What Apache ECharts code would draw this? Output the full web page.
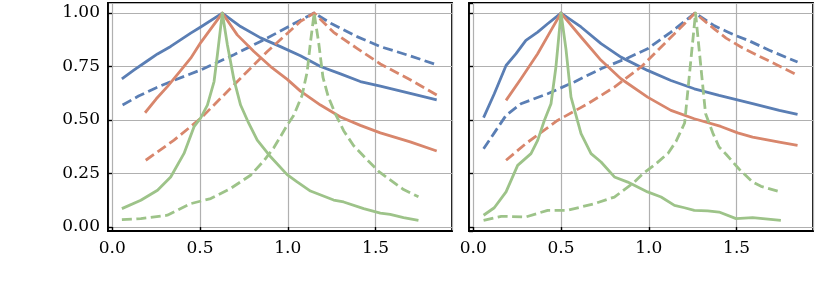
<!DOCTYPE html>
<html><head><meta charset="utf-8">
<script src="https://cdn.jsdelivr.net/npm/echarts@6/dist/echarts.min.js"></script>
<style>html,body{margin:0;padding:0;background:#fff}#c{width:822px;height:289px}</style>
</head><body><div id="c"></div><script>
// tick labels
const xTickLabels = ['0.0', '0.5', '1.0', '1.5'];
const yTickLabels = ['0.00', '0.25', '0.50', '0.75', '1.00'];

// ---- left panel: [x, y] points ----
const leftBlueSolid = [[0.055,0.692],[0.125,0.734],[0.201,0.777],[0.258,0.809],[0.333,0.844],[0.447,0.906],[0.504,0.935],[0.627,1.0],[0.731,0.937],[0.845,0.884],[0.958,0.843],[1.072,0.800],[1.186,0.750],[1.300,0.716],[1.413,0.680],[1.527,0.658],[1.697,0.625],[1.848,0.594]];
const leftBlueDashed = [[0.059,0.570],[0.150,0.612],[0.248,0.650],[0.350,0.685],[0.504,0.734],[0.693,0.805],[0.883,0.883],[1.072,0.967],[1.150,1.0],[1.250,0.950],[1.394,0.890],[1.527,0.843],[1.697,0.800],[1.848,0.758]];
const leftRedSolid = [[0.187,0.534],[0.250,0.598],[0.314,0.656],[0.380,0.722],[0.447,0.789],[0.504,0.862],[0.627,1.0],[0.712,0.898],[0.807,0.820],[0.902,0.750],[0.997,0.690],[1.072,0.635],[1.186,0.570],[1.300,0.514],[1.413,0.475],[1.527,0.440],[1.697,0.398],[1.848,0.355]];
const leftRedDashed = [[0.191,0.312],[0.352,0.406],[0.504,0.508],[0.693,0.664],[0.883,0.820],[1.072,0.961],[1.150,1.0],[1.261,0.910],[1.394,0.835],[1.527,0.762],[1.697,0.688],[1.848,0.617]];
const leftGreenSolid = [[0.055,0.086],[0.163,0.125],[0.258,0.172],[0.333,0.234],[0.409,0.344],[0.466,0.469],[0.504,0.510],[0.542,0.570],[0.580,0.680],[0.599,0.805],[0.627,1.0],[0.656,0.851],[0.693,0.690],[0.731,0.570],[0.778,0.484],[0.826,0.406],[0.902,0.328],[0.996,0.245],[1.053,0.211],[1.129,0.168],[1.261,0.126],[1.318,0.117],[1.432,0.086],[1.527,0.065],[1.583,0.059],[1.659,0.044],[1.744,0.031]];
const leftGreenDashed = [[0.055,0.034],[0.163,0.039],[0.314,0.055],[0.447,0.109],[0.561,0.133],[0.674,0.180],[0.788,0.242],[0.864,0.310],[0.920,0.370],[0.996,0.475],[1.034,0.522],[1.081,0.615],[1.110,0.724],[1.129,0.863],[1.150,1.0],[1.176,0.860],[1.200,0.700],[1.230,0.610],[1.270,0.530],[1.318,0.450],[1.375,0.380],[1.451,0.315],[1.517,0.260],[1.583,0.220],[1.659,0.175],[1.744,0.141]];

// ---- right panel ----
const rightBlueSolid = [[0.059,0.511],[0.120,0.623],[0.187,0.755],[0.244,0.810],[0.300,0.872],[0.367,0.911],[0.424,0.950],[0.500,1.0],[0.614,0.935],[0.728,0.857],[0.841,0.794],[0.993,0.732],[1.126,0.685],[1.259,0.646],[1.400,0.615],[1.591,0.577],[1.743,0.545],[1.847,0.526]];
const rightBlueDashed = [[0.059,0.366],[0.120,0.440],[0.187,0.522],[0.272,0.576],[0.424,0.623],[0.576,0.678],[0.728,0.740],[0.880,0.790],[0.993,0.833],[1.126,0.911],[1.263,1.0],[1.374,0.940],[1.440,0.915],[1.500,0.893],[1.572,0.870],[1.686,0.826],[1.847,0.771]];
const rightRedSolid = [[0.187,0.592],[0.272,0.693],[0.367,0.810],[0.443,0.919],[0.500,1.0],[0.614,0.888],[0.728,0.779],[0.841,0.693],[0.993,0.607],[1.126,0.545],[1.259,0.506],[1.410,0.470],[1.506,0.440],[1.591,0.420],[1.743,0.397],[1.847,0.382]];
const rightRedDashed = [[0.187,0.312],[0.300,0.390],[0.480,0.498],[0.652,0.576],[0.804,0.654],[0.956,0.748],[1.089,0.857],[1.203,0.950],[1.263,1.0],[1.374,0.925],[1.440,0.883],[1.525,0.841],[1.677,0.779],[1.847,0.709]];
const rightGreenSolid = [[0.059,0.055],[0.120,0.090],[0.187,0.164],[0.253,0.288],[0.329,0.343],[0.367,0.405],[0.405,0.498],[0.443,0.576],[0.471,0.748],[0.500,1.0],[0.529,0.826],[0.557,0.607],[0.614,0.436],[0.671,0.343],[0.728,0.304],[0.804,0.234],[0.880,0.210],[0.993,0.164],[1.070,0.140],[1.146,0.101],[1.203,0.090],[1.259,0.078],[1.335,0.075],[1.400,0.070],[1.497,0.039],[1.591,0.044],[1.752,0.031]];
const rightGreenDashed = [[0.059,0.031],[0.160,0.050],[0.300,0.047],[0.424,0.078],[0.538,0.078],[0.690,0.109],[0.804,0.140],[0.918,0.210],[0.968,0.250],[1.040,0.295],[1.110,0.345],[1.155,0.400],[1.204,0.486],[1.266,1.0],[1.323,0.530],[1.364,0.440],[1.400,0.374],[1.440,0.340],[1.515,0.270],[1.591,0.210],[1.639,0.190],[1.734,0.168]];

const BLUE = '#5a7eb4', RED = '#d8866c', GREEN = '#9dc389';
const FONT = 'DejaVu Serif';

const chart = echarts.init(document.getElementById('c'), null, {renderer: 'canvas'});

function xAxis(gi) {
  return {
    type: 'value', gridIndex: gi, min: -0.024, max: 1.935,
    minInterval: 0.5, maxInterval: 0.5,
    axisLine: {show: true, onZero: false, lineStyle: {color: '#000', width: 1.8}},
    axisTick: {show: true, inside: true, length: 4, lineStyle: {color: '#000', width: 1.4}},
    axisLabel: {show: true, showMinLabel: false, showMaxLabel: false, margin: 9,
      fontFamily: FONT, fontSize: 17, color: '#000',
      formatter: v => { const i = Math.round(v / 0.5); return (Math.abs(v - i * 0.5) < 1e-6 && xTickLabels[i]) ? xTickLabels[i] : ''; }},
    splitLine: {show: true, lineStyle: {color: '#b0b0b0', width: 1.2}}
  };
}
function yAxis(gi, labels) {
  return {
    type: 'value', gridIndex: gi, min: -0.0187, max: 1.047,
    minInterval: 0.25, maxInterval: 0.25,
    axisLine: {show: true, onZero: false, lineStyle: {color: '#000', width: 1.8}},
    axisTick: {show: true, inside: true, length: 4, lineStyle: {color: '#000', width: 1.4}},
    axisLabel: {show: labels, showMinLabel: false, showMaxLabel: false, margin: 8,
      fontFamily: FONT, fontSize: 17, color: '#000',
      formatter: v => { const i = Math.round(v / 0.25); return (Math.abs(v - i * 0.25) < 1e-6 && yTickLabels[i]) ? yTickLabels[i] : ''; }},
    splitLine: {show: true, lineStyle: {color: '#b0b0b0', width: 1.2}}
  };
}
function line(data, color, dashed, gi) {
  return {
    type: 'line', xAxisIndex: gi, yAxisIndex: gi, data: data,
    showSymbol: false, symbol: 'none', animation: false, silent: true,
    lineStyle: {color: color, width: 2.8, type: dashed ? [10, 4.5] : 'solid', cap: 'butt', join: 'round'}
  };
}

chart.setOption({
  animation: false,
  backgroundColor: '#fff',
  grid: [
    {left: 108, top: 3, width: 344, height: 228, show: true, borderColor: '#000', borderWidth: 1.8, backgroundColor: 'transparent'},
    {left: 469, top: 3, width: 344, height: 228, show: true, borderColor: '#000', borderWidth: 1.8, backgroundColor: 'transparent'}
  ],
  xAxis: [xAxis(0), xAxis(1)],
  yAxis: [yAxis(0, true), yAxis(1, false)],
  series: [
    line(leftBlueSolid, BLUE, false, 0),
    line(leftBlueDashed, BLUE, true, 0),
    line(leftRedSolid, RED, false, 0),
    line(leftRedDashed, RED, true, 0),
    line(leftGreenSolid, GREEN, false, 0),
    line(leftGreenDashed, GREEN, true, 0),
    line(rightBlueSolid, BLUE, false, 1),
    line(rightBlueDashed, BLUE, true, 1),
    line(rightRedSolid, RED, false, 1),
    line(rightRedDashed, RED, true, 1),
    line(rightGreenSolid, GREEN, false, 1),
    line(rightGreenDashed, GREEN, true, 1)
  ]
});
</script></body></html>
